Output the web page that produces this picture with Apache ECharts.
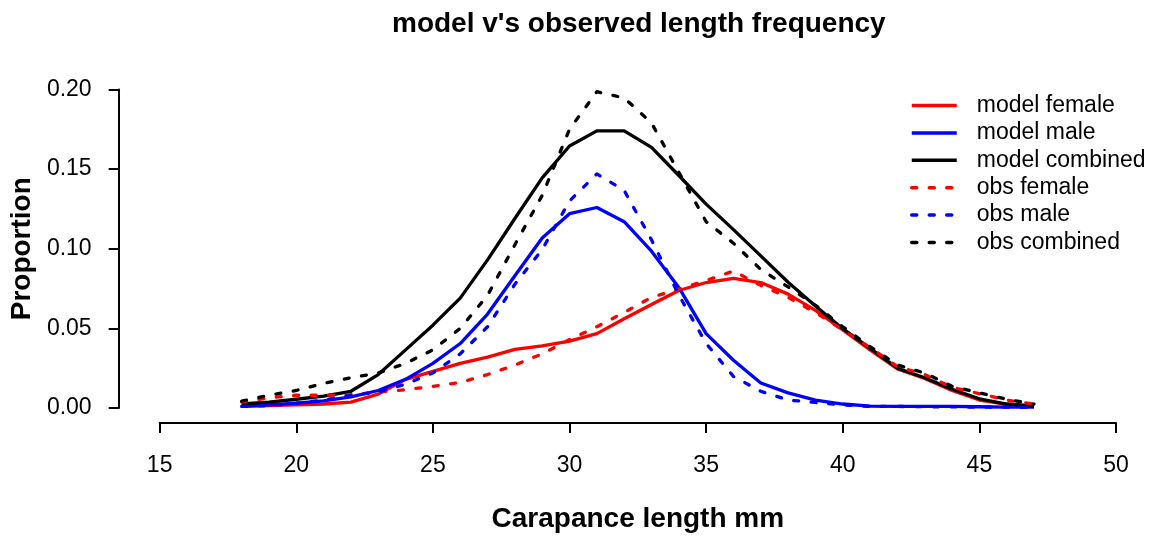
<!DOCTYPE html>
<html>
<head>
<meta charset="utf-8">
<script src="https://cdn.jsdelivr.net/npm/echarts@6/dist/echarts.min.js"></script>
<style>
html,body{margin:0;padding:0;background:#fff;}
#chart{width:1149px;height:538px;}
</style>
</head>
<body>
<div id="chart"></div>
<script>
const lengths = [18,19,20,21,22,23,24,25,26,27,28,29,30,31,32,33,34,35,36,37,38,39,40,41,42,43,44,45,46,47];
const modelFemale = [0.001,0.0015,0.002,0.0025,0.0037,0.0087,0.018,0.023,0.028,0.032,0.0368,0.039,0.042,0.0467,0.056,0.065,0.0738,0.0788,0.0814,0.0788,0.0715,0.0613,0.049,0.0365,0.0245,0.0185,0.011,0.005,0.0022,0.001];
const modelMale = [0.001,0.002,0.003,0.0045,0.007,0.011,0.018,0.028,0.0405,0.059,0.083,0.1067,0.122,0.1259,0.117,0.0985,0.0757,0.0467,0.030,0.0157,0.0095,0.005,0.0025,0.0012,0.001,0.001,0.001,0.0008,0.0005,0.0005];
const modelCombined = [0.0025,0.0037,0.0055,0.0075,0.0105,0.021,0.0365,0.052,0.069,0.093,0.119,0.1445,0.1645,0.174,0.174,0.1637,0.146,0.128,0.112,0.0955,0.079,0.064,0.0498,0.0374,0.025,0.0190,0.0118,0.0058,0.0025,0.0013];
const obsFemale = [0.0037,0.0064,0.008,0.008,0.0083,0.010,0.0115,0.0136,0.016,0.021,0.027,0.034,0.043,0.051,0.060,0.0695,0.0746,0.080,0.086,0.077,0.0695,0.060,0.049,0.038,0.026,0.021,0.013,0.009,0.005,0.0025];
const obsMale = [0.001,0.0015,0.003,0.005,0.008,0.010,0.015,0.022,0.034,0.051,0.0777,0.0995,0.130,0.147,0.1366,0.1056,0.071,0.0405,0.0198,0.0105,0.005,0.0035,0.002,0.001,0.001,0.0008,0.0008,0.0005,0.0005,0.0003];
const obsCombined = [0.0043,0.008,0.011,0.0155,0.019,0.022,0.028,0.0365,0.050,0.0707,0.1025,0.1335,0.175,0.1986,0.1947,0.179,0.148,0.117,0.1035,0.087,0.076,0.0645,0.051,0.0385,0.027,0.022,0.0136,0.0095,0.0055,0.0025];
const seriesNames = ['model female','model male','model combined','obs female','obs male','obs combined'];

const FONT = '"Liberation Sans", Arial, Helvetica, sans-serif';
const dashPattern = [5, 12.5];

function pairs(vals){ return lengths.map((x,i)=>[x, vals[i]]); }
function mk(name, vals, color, dashed){
  return {
    name: name, type: 'line', data: pairs(vals),
    symbol: 'none', showSymbol: false, smooth: false,
    lineStyle: { color: color, width: 3.3, type: dashed ? dashPattern : 'solid', cap: dashed ? 'round' : 'butt', join: 'round' },
    itemStyle: { color: color },
    emphasis: { disabled: true },
    animation: false
  };
}

const chart = echarts.init(document.getElementById('chart'), null, {renderer: 'canvas'});
chart.setOption({
  backgroundColor: '#fff',
  animation: false,
  title: {
    text: "model v's observed length frequency",
    left: 392, top: 10, padding: 0,
    textStyle: { fontFamily: FONT, fontWeight: 'bold', fontSize: 28, color: '#000' }
  },
  legend: {
    orient: 'vertical', left: 910, top: 93.5, padding: 0,
    itemWidth: 45, itemHeight: 14, itemGap: 3.4,
    data: seriesNames,
    itemStyle: { opacity: 0 },
    lineStyle: { width: 3.5 },
    textStyle: { fontFamily: FONT, fontSize: 23, color: '#000', lineHeight: 24, padding: [0,0,0,15] }
  },
  grid: { left: 159, right: 33, top: 89.5, bottom: 126, containLabel: false },
  xAxis: {
    type: 'value', min: 15, max: 50, interval: 5, offset: 15,
    name: 'Carapance length mm', nameLocation: 'middle', nameGap: 82,
    nameTextStyle: { fontFamily: FONT, fontWeight: 'bold', fontSize: 28, color: '#000' },
    axisLine: { show: true, onZero: false, lineStyle: { color: '#000', width: 2 } },
    axisTick: { show: true, length: 10, lineStyle: { color: '#000', width: 2 } },
    axisLabel: { margin: 31, fontFamily: FONT, fontSize: 23, color: '#000' },
    splitLine: { show: false }
  },
  yAxis: {
    type: 'value', min: 0, max: 0.2, interval: 0.05, offset: 41,
    name: 'Proportion', nameLocation: 'middle', nameGap: 80, nameRotate: 90,
    nameTextStyle: { fontFamily: FONT, fontWeight: 'bold', fontSize: 28, color: '#000' },
    axisLine: { show: true, onZero: false, lineStyle: { color: '#000', width: 2 } },
    axisTick: { show: true, length: 10, lineStyle: { color: '#000', width: 2 } },
    axisLabel: { margin: 27, fontFamily: FONT, fontSize: 23, color: '#000', formatter: v => v.toFixed(2) },
    splitLine: { show: false }
  },
  series: [
    mk(seriesNames[0], modelFemale, '#ff0000', false),
    mk(seriesNames[1], modelMale, '#0000ff', false),
    mk(seriesNames[2], modelCombined, '#000000', false),
    mk(seriesNames[3], obsFemale, '#ff0000', true),
    mk(seriesNames[4], obsMale, '#0000ff', true),
    mk(seriesNames[5], obsCombined, '#000000', true)
  ]
});
</script>
</body>
</html>
